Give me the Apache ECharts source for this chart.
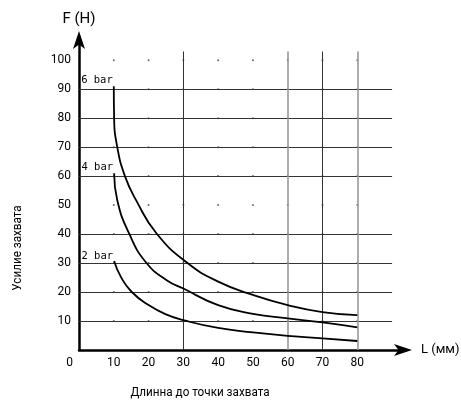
<!DOCTYPE html>
<html>
<head>
<meta charset="utf-8">
<script src="https://cdn.jsdelivr.net/npm/echarts@6/dist/echarts.min.js"></script>
<style>html,body{margin:0;padding:0;background:#fff}#c{width:461px;height:400px}</style>
</head>
<body>
<div id="c"></div>
<script>
// ---- data ----
const xTicks = [0, 10, 20, 30, 40, 50, 60, 70, 80];
const yTicks = [10, 20, 30, 40, 50, 60, 70, 80, 90, 100];
const hLines = [10, 20, 30, 40, 60, 70, 80, 90];
const vLinesDark = [30, 70];
const vLinesGray = [60, 80];
const seriesNames = ['6 bar', '4 bar', '2 bar'];
const x6 = [10, 10.1, 11, 13.2, 16.4, 22.3, 31.2, 40, 50, 60, 70, 80];
const y6 = [91, 80, 70, 60, 51.7, 40.2, 30, 23.6, 19, 15.5, 13.1, 12];
const x4 = [10.1, 11, 14.4, 19.4, 25.2, 30, 40, 50, 60, 70, 80];
const y4 = [61, 51.7, 40.2, 30, 24.1, 21.2, 15.5, 12.5, 10.9, 9.5, 7.8];
const x2 = [10.1, 12, 15.1, 20, 25.2, 30, 40, 50, 60, 70, 80];
const y2 = [30.7, 25.3, 20.1, 15.5, 12.2, 10.3, 7.6, 6.1, 4.9, 4.0, 3.1];
const xTitle = 'Длинна до точки захвата';
const yTitle = 'Усилие захвата';
const xName = 'L (мм)';
const yName = 'F (H)';

const FONT = "Roboto, 'DejaVu Sans', sans-serif";
const MONO = "'DejaVu Sans Mono', 'Liberation Mono', monospace";

function zip(xs, ys) { return xs.map((x, i) => [x, ys[i]]); }
const labelOffsets = [-6, -6, -5];

function curve(name, xs, ys, k) {
  const data = zip(xs, ys).map((p, i) => i === 0 ? {
    value: p,
    label: { show: true, formatter: name, position: 'left', distance: 1, offset: [0, labelOffsets[k]],
      fontFamily: MONO, fontSize: 10.5, color: '#000' }
  } : p);
  return {
    type: 'line', name: name, data: data, smooth: 0.5, showSymbol: true, symbol: 'circle', symbolSize: 0.1,
    itemStyle: { color: '#000' },
    lineStyle: { color: '#000', width: 1.8 }, silent: true, z: 5,
    label: { show: false }
  };
}

const dots = [];
xTicks.filter(v => v > 0).forEach(x => yTicks.forEach(y => dots.push([x, y])));

const gridLines = [];
hLines.forEach(y => gridLines.push([{ coord: [0, y] }, { coord: [90, y] }]));
const vDark = vLinesDark.map(x => [{ coord: [x, 0] }, { coord: [x, 103] }]);
const vGray = vLinesGray.map(x => [{ coord: [x, 0] }, { coord: [x, 103] }]);

const chart = echarts.init(document.getElementById('c'), null, { renderer: 'canvas' });
chart.setOption({
  animation: false,
  backgroundColor: '#fff',
  grid: { left: 79, right: 55, top: 37, bottom: 50, containLabel: false, outerBoundsMode: 'none' },
  xAxis: {
    type: 'value', min: 0, max: 94, interval: 10,
    name: xName, nameLocation: 'end', nameGap: 15,
    nameTextStyle: { fontFamily: FONT, fontSize: 13, color: '#000', padding: [12, 0, 0, 0] },
    axisLine: { show: true, symbol: ['none', 'arrow'], symbolSize: [9, 18], symbolOffset: [0, 6],
      lineStyle: { color: '#000', width: 2.5 } },
    axisTick: { show: false },
    splitLine: { show: false },
    axisLabel: {
      margin: 7, fontFamily: FONT, fontSize: 12, color: '#000',
      formatter: v => v === 0 ? '{z|0}' : (xTicks.indexOf(v) >= 0 ? String(v) : ''),
      rich: { z: { fontFamily: FONT, fontSize: 12, color: '#000', padding: [0, 19, 0, 0] } }
    }
  },
  yAxis: {
    type: 'value', min: 0, max: 108, interval: 10,
    name: yName, nameLocation: 'end', nameGap: 10,
    nameTextStyle: { fontFamily: FONT, fontSize: 15, color: '#000', align: 'center' },
    axisLine: { show: true, symbol: ['none', 'arrow'], symbolSize: [9, 18], symbolOffset: [0, 6],
      lineStyle: { color: '#000', width: 2.5 } },
    axisTick: { show: false },
    splitLine: { show: false },
    axisLabel: {
      margin: 8, fontFamily: FONT, fontSize: 12, color: '#000',
      formatter: v => (yTicks.indexOf(v) >= 0 ? String(v) : '')
    }
  },
  graphic: [
    { type: 'text', x: 200, y: 393, scaleX: 0.9,
      style: { text: xTitle, fontFamily: FONT, fontSize: 13, fill: '#000', align: 'center', verticalAlign: 'middle' } },
    { type: 'text', x: 18, y: 248, rotation: Math.PI / 2, scaleX: 0.9,
      style: { text: yTitle, fontFamily: FONT, fontSize: 13, fill: '#000', align: 'center', verticalAlign: 'middle' } }
  ],
  series: [
    {
      type: 'scatter', data: dots, symbolSize: 2, itemStyle: { color: '#444' }, silent: true, z: 1,
      markLine: { silent: true, symbol: 'none', label: { show: false }, animation: false,
        lineStyle: { color: '#333', width: 1, type: 'solid' }, data: gridLines.concat(vDark) }
    },
    {
      type: 'scatter', data: [], silent: true, z: 1,
      markLine: { silent: true, symbol: 'none', label: { show: false }, animation: false,
        lineStyle: { color: '#999', width: 1.6, type: 'solid' }, data: vGray }
    },
    curve(seriesNames[0], x6, y6, 0),
    curve(seriesNames[1], x4, y4, 1),
    curve(seriesNames[2], x2, y2, 2)
  ]
});
</script>
</body>
</html>
